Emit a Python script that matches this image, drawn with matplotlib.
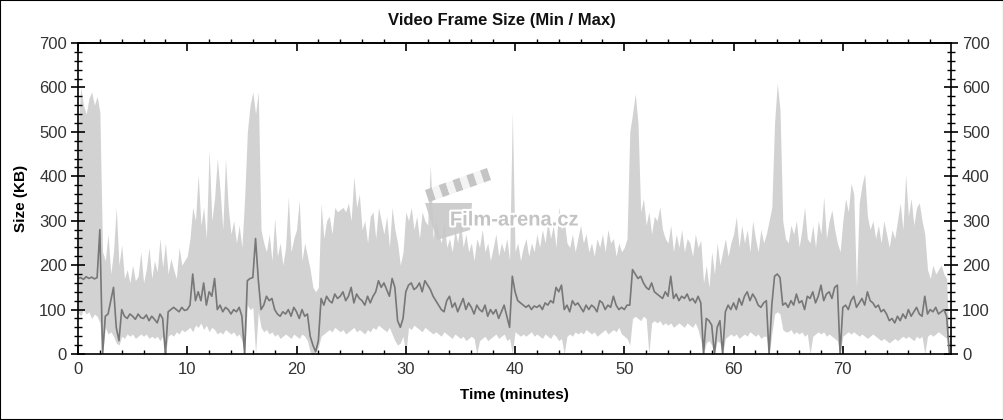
import numpy as np
import matplotlib
matplotlib.use('Agg')
import matplotlib.pyplot as plt
from matplotlib.ticker import MultipleLocator
import matplotlib.patheffects as pe
from matplotlib.patches import Polygon, Rectangle

plt.rcParams['font.family'] = ['Liberation Sans', 'DejaVu Sans']

frame_max = [
    500, 600, 560, 540, 575, 590, 560, 580, 545, 230, 210, 270, 180, 230, 330, 200, 245, 170, 190, 160,  # 0-5
    200, 165, 175, 230, 160, 190, 240, 170, 210, 185, 260, 195, 250, 180, 215, 190, 170, 240, 200, 210,  # 5-10
    220, 260, 330, 300, 405, 290, 330, 260, 460, 300, 350, 440, 370, 280, 440, 330, 270, 300, 250, 290,  # 10-15
    240, 350, 500, 560, 590, 540, 590, 280, 250, 230, 270, 210, 305, 220, 250, 200, 240, 354, 230, 260,  # 15-20
    280, 346, 210, 250, 220, 190, 150, 140, 150, 339, 260, 300, 310, 270, 330, 320, 325, 330, 320, 340,  # 20-25
    300, 400, 330, 360, 280, 300, 250, 310, 320, 260, 330, 300, 270, 310, 240, 330, 280, 250, 200, 230,  # 25-30
    320, 300, 330, 280, 310, 260, 320, 300, 290, 425, 260, 300, 270, 250, 300, 240, 260, 230, 280, 250,  # 30-35
    300, 240, 270, 230, 250, 210, 260, 240, 280, 230, 250, 210, 240, 270, 220, 250, 230, 260, 210, 545,  # 35-40
    230, 250, 210, 240, 260, 220, 250, 230, 270, 240, 280, 250, 300, 260, 290, 240, 331, 280, 300, 250,  # 40-45
    240, 270, 230, 260, 290, 250, 270, 230, 250, 220, 260, 240, 270, 230, 280, 250, 260, 220, 250, 230,  # 45-50
    240, 260, 500, 540, 586, 520, 320, 350, 290, 320, 270, 310, 300, 331, 280, 260, 250, 290, 230, 270,  # 50-55
    240, 280, 230, 260, 250, 220, 270, 240, 256, 160, 200, 150, 230, 180, 250, 200, 230, 260, 220, 250,  # 55-60
    270, 309, 240, 290, 250, 280, 230, 300, 260, 230, 280, 250, 270, 300, 330, 520, 609, 550, 300, 260,  # 60-65
    250, 290, 270, 300, 240, 280, 331, 260, 250, 290, 240, 300, 270, 354, 260, 300, 324, 280, 250, 230,  # 65-70
    300, 350, 320, 384, 360, 150, 340, 380, 406, 310, 280, 300, 260, 290, 250, 300, 270, 240, 280, 260,  # 70-75
    300, 340, 280, 403, 310, 350, 290, 330, 340, 300, 270, 190, 170, 200, 180, 190, 200, 180, 170, 0,    # 75-80
]

frame_min = [
    95, 85, 100, 90, 95, 80, 90, 85, 70, 0, 60, 45, 50, 40, 25, 20, 40, 35, 45, 40,
    45, 35, 40, 45, 40, 45, 35, 40, 35, 40, 30, 40, 0, 40, 45, 40, 50, 45, 55, 50,
    55, 60, 50, 65, 60, 70, 55, 65, 50, 60, 55, 45, 50, 45, 55, 50, 45, 50, 40, 45,
    30, 0, 110, 100, 105, 0, 95, 60, 50, 55, 45, 50, 40, 45, 35, 40, 45, 40, 35, 45,
    40, 35, 45, 40, 30, 5, 0, 5, 15, 40, 45, 50, 55, 50, 60, 55, 50, 55, 45, 50,
    55, 60, 50, 55, 50, 45, 55, 50, 60, 55, 65, 60, 55, 50, 60, 45, 30, 20, 25, 40,
    0, 60, 55, 65, 60, 55, 50, 60, 55, 50, 45, 50, 45, 40, 50, 45, 40, 35, 45, 40,
    35, 40, 30, 35, 40, 35, 0, 30, 35, 40, 30, 35, 40, 45, 35, 40, 45, 30, 35, 0,
    50, 45, 40, 45, 40, 45, 50, 40, 45, 40, 35, 45, 40, 35, 45, 40, 30, 35, 0, 40,
    45, 40, 50, 45, 50, 45, 55, 50, 45, 50, 40, 45, 50, 55, 45, 50, 55, 50, 60, 45,
    40, 35, 20, 80, 85, 80, 75, 85, 80, 0, 70, 75, 70, 75, 65, 70, 65, 70, 60, 65,
    70, 65, 60, 70, 65, 60, 70, 55, 30, 0, 25, 30, 20, 0, 30, 25, 0, 35, 40, 45,
    40, 45, 35, 40, 45, 40, 50, 45, 40, 45, 35, 40, 40, 0, 45, 90, 95, 90, 55, 50,
    50, 55, 45, 50, 45, 50, 40, 45, 0, 40, 45, 50, 45, 50, 40, 45, 40, 35, 30, 0,
    40, 45, 50, 45, 50, 45, 40, 45, 40, 35, 40, 45, 40, 35, 30, 35, 30, 25, 30, 35,
    30, 35, 40, 35, 40, 35, 30, 40, 35, 40, 0, 40, 45, 40, 45, 50, 45, 40, 35, 0,
]

frame_avg = [
    170, 172, 168, 174, 170, 173, 169, 172, 280, 0, 85, 90, 120, 150, 60, 30, 100, 85, 80, 90,
    85, 78, 90, 82, 80, 88, 75, 85, 78, 70, 90, 80, 0, 95, 100, 105, 100, 95, 105, 98,
    100, 110, 180, 120, 140, 120, 160, 110, 140, 130, 170, 100, 110, 95, 105, 100, 90, 100, 95, 105,
    85, 0, 165, 170, 172, 260, 168, 100, 110, 130, 120, 125, 100, 90, 85, 95, 90, 100, 85, 105,
    95, 80, 100, 85, 90, 40, 20, 5, 30, 125, 110, 130, 120, 115, 135, 125, 130, 140, 120, 130,
    150, 115, 135, 125, 120, 110, 130, 115, 130, 140, 165, 150, 160, 145, 130, 170, 150, 75, 60, 80,
    140, 155, 160, 145, 150, 160, 140, 165, 155, 145, 130, 120, 110, 100, 95, 120, 130, 105, 115, 95,
    110, 125, 100, 115, 105, 90, 110, 100, 95, 110, 85, 100, 90, 100, 80, 95, 110, 85, 60, 175,
    140, 120, 115, 110, 105, 110, 100, 108, 105, 110, 100, 115, 110, 120, 115, 150, 140, 155, 100, 110,
    95, 120, 110, 115, 105, 95, 110, 100, 110, 105, 95, 120, 115, 100, 110, 105, 130, 110, 100, 105,
    100, 110, 110, 190, 180, 170, 175, 160, 150, 145, 160, 140, 135, 130, 125, 140, 130, 175, 125, 135,
    120, 130, 125, 135, 120, 125, 115, 130, 115, 0, 80, 75, 65, 0, 60, 75, 0, 95, 110, 100,
    115, 100, 125, 110, 130, 140, 120, 135, 125, 110, 105, 115, 120, 0, 110, 175, 180, 172, 110, 115,
    105, 120, 110, 135, 115, 120, 100, 130, 125, 140, 115, 130, 155, 120, 135, 140, 125, 150, 155, 0,
    105, 110, 100, 120, 130, 105, 115, 125, 110, 140, 120, 115, 105, 110, 95, 100, 90, 75, 80, 70,
    85, 75, 90, 80, 100, 85, 95, 105, 90, 85, 130, 90, 100, 95, 105, 90, 95, 100, 85, 0,
]

minutes = np.arange(len(frame_max)) * 0.25

fig = plt.figure(figsize=(10.04, 4.2), dpi=100)
ax = fig.add_axes([78 / 1004, 66 / 420, 873 / 1004, 311 / 420])

ax.fill_between(minutes, frame_min, frame_max, color='#d2d2d2', lw=0)
ax.plot(minutes, frame_avg, color='#777777', lw=1.2)

ax.set_xlim(0, 79.9)
ax.set_ylim(0, 700)
ax.xaxis.set_major_locator(MultipleLocator(10))
ax.xaxis.set_minor_locator(MultipleLocator(2))
ax.yaxis.set_major_locator(MultipleLocator(100))
ax.yaxis.set_minor_locator(MultipleLocator(20))

ax.tick_params(axis='x', which='major', direction='in', length=6, width=1.2,
               labelsize=12, labelcolor='#333333', pad=6)
ax.tick_params(axis='x', which='minor', direction='in', length=3, width=1)
ax.tick_params(axis='y', which='major', direction='inout', length=10, width=1.2,
               left=True, right=True, labelright=True, labelsize=12,
               labelcolor='#333333', pad=3)
ax.tick_params(axis='y', which='minor', direction='inout', length=6, width=1,
               left=True, right=True)

top = ax.secondary_xaxis('top')
top.xaxis.set_major_locator(MultipleLocator(10))
top.xaxis.set_minor_locator(MultipleLocator(2))
top.tick_params(which='major', direction='in', length=6, width=1.2, labeltop=False)
top.tick_params(which='minor', direction='out', length=3, width=1)
top.spines['top'].set_linewidth(1.2)

for s in ax.spines.values():
    s.set_linewidth(1.2)

ax.set_xlabel('Time (minutes)', fontsize=11, fontweight='bold', labelpad=8)
ax.set_ylabel('Size (KB)', fontsize=11, fontweight='bold', labelpad=8)
fig.text(0.5, 1 - 20 / 420, 'Video Frame Size (Min / Max)', ha='center', va='center',
         fontsize=12, fontweight='bold', color='#111111')


# watermark logo
def fpx(x, y):
    return (x / 1004, 1 - y / 420)


body = Polygon([fpx(425, 203), fpx(472, 203), fpx(470, 230), fpx(437, 240)],
               closed=True, transform=fig.transFigure, facecolor='#c8c8c8',
               edgecolor='none', alpha=0.9, zorder=4)
fig.patches.append(body)
a = np.array([425.0, 190.0])
b = np.array([487.0, 168.0])
w = np.array([4.0, 12.0])
n = 9
for i in range(n):
    p0 = a + (b - a) * i / n
    p1 = a + (b - a) * (i + 1) / n
    col = '#c4c4c4' if i % 2 == 0 else '#f4f4f4'
    fig.patches.append(Polygon([fpx(*p0), fpx(*p1), fpx(*(p1 + w)), fpx(*(p0 + w))],
                               closed=True, transform=fig.transFigure,
                               facecolor=col, edgecolor='none', zorder=4))
fig.text(0.512, 1 - 220 / 420, 'Film-arena.cz', ha='center', va='center',
         fontsize=14.5, fontweight='bold', color='#c4c4c4', zorder=5,
         path_effects=[pe.withStroke(linewidth=3, foreground='white')])

fig.patches.append(Rectangle((0, 0), 1, 1, transform=fig.transFigure, fill=False,
                             edgecolor='black', lw=1.5))

fig.savefig('out.png', dpi=100, facecolor='white')
